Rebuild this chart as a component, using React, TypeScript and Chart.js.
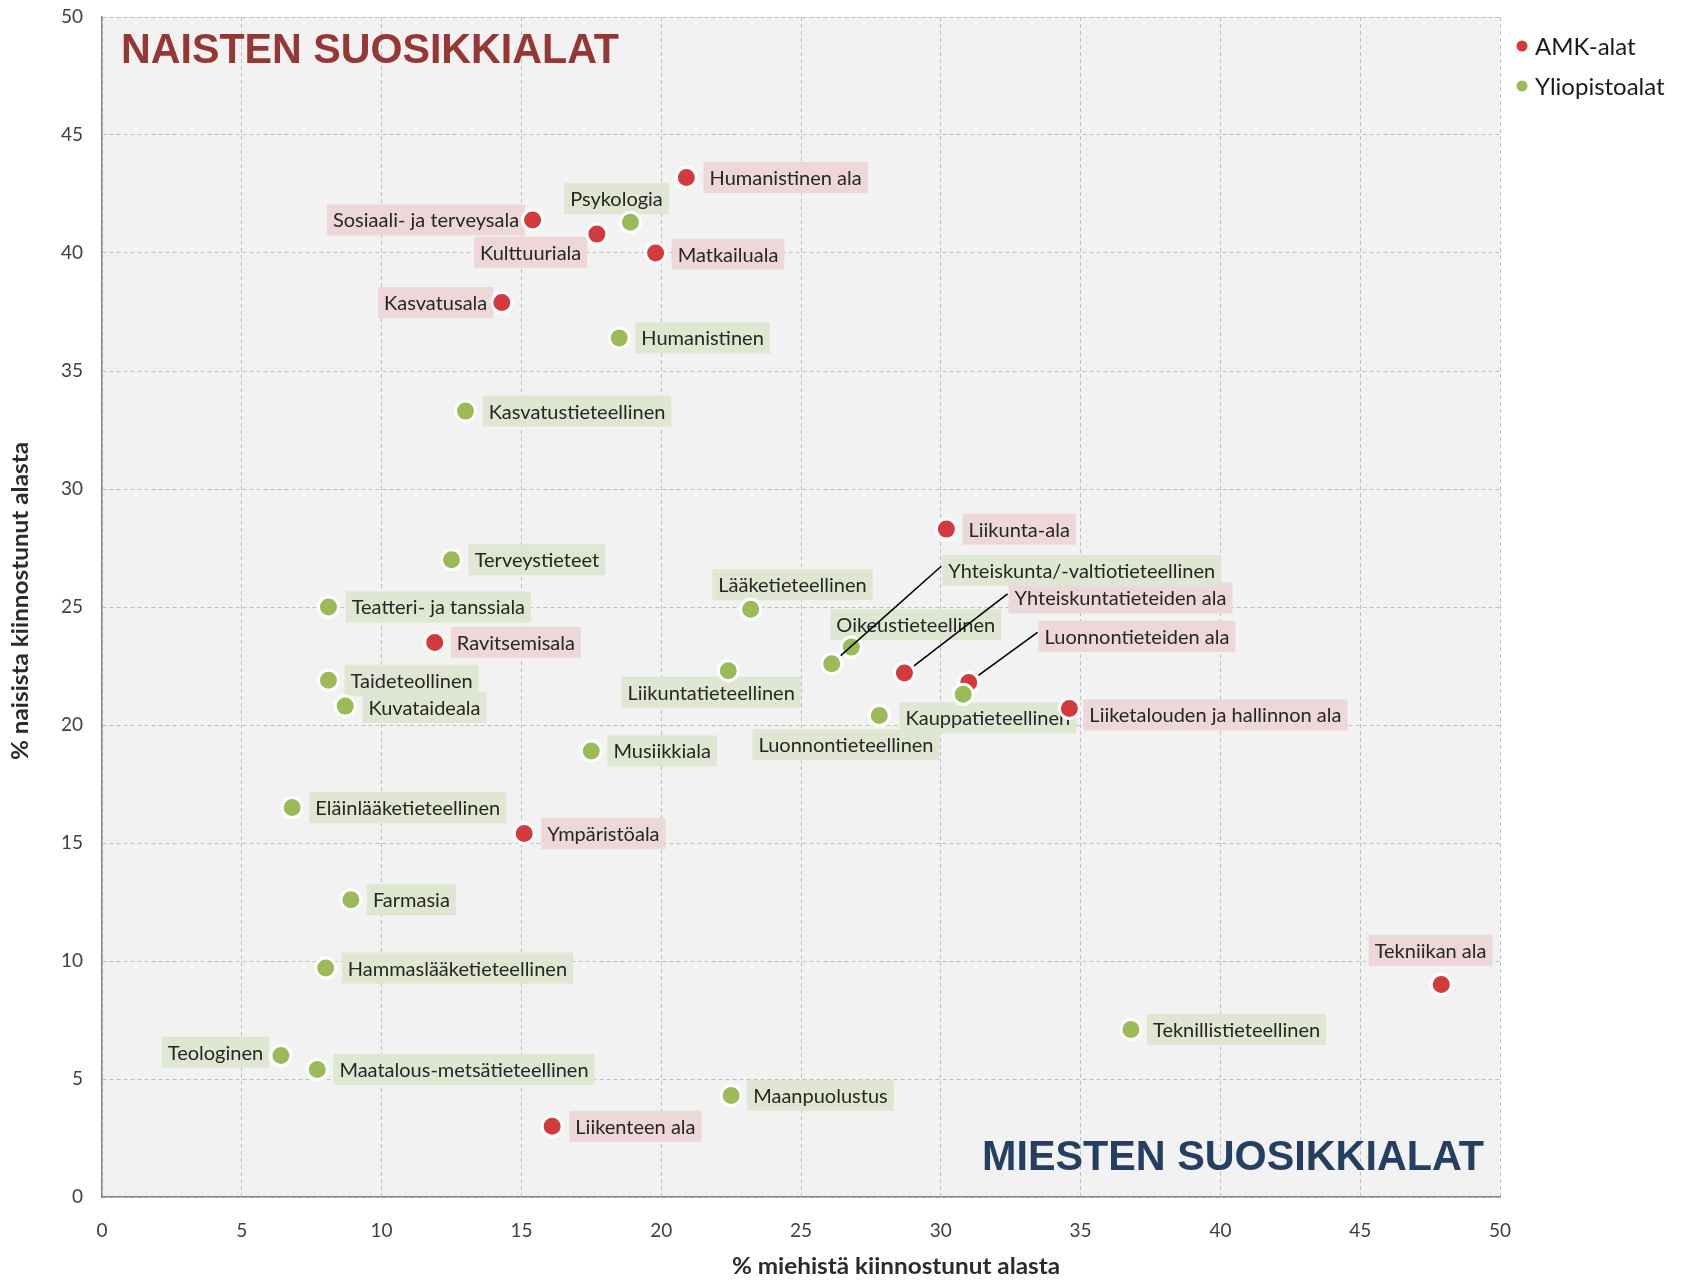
import React, { useEffect, useRef } from "react";
import { Chart, registerables } from "chart.js";
Chart.register(...registerables);

// ---------- DATA ----------
const SERIES_NAMES = ["AMK-alat", "Yliopistoalat"];

const AMK_NAMES = [
  "Humanistinen ala",
  "Sosiaali- ja terveysala",
  "Kulttuuriala",
  "Matkailuala",
  "Kasvatusala",
  "Liikunta-ala",
  "Yhteiskuntatieteiden ala",
  "Luonnontieteiden ala",
  "Liiketalouden ja hallinnon ala",
  "Ravitsemisala",
  "Ympäristöala",
  "Tekniikan ala",
  "Liikenteen ala",
];
const AMK_MEN = [20.9, 15.4, 17.7, 19.8, 14.3, 30.2, 28.7, 31.0, 34.6, 11.9, 15.1, 47.9, 16.1];
const AMK_WOMEN = [43.2, 41.4, 40.8, 40.0, 37.9, 28.3, 22.2, 21.8, 20.7, 23.5, 15.4, 9.0, 3.0];

const YO_NAMES = [
  "Psykologia",
  "Humanistinen",
  "Kasvatustieteellinen",
  "Terveystieteet",
  "Teatteri- ja tanssiala",
  "Lääketieteellinen",
  "Oikeustieteellinen",
  "Yhteiskunta/-valtiotieteellinen",
  "Liikuntatieteellinen",
  "Taideteollinen",
  "Kuvataideala",
  "Luonnontieteellinen",
  "Kauppatieteellinen",
  "Musiikkiala",
  "Eläinlääketieteellinen",
  "Farmasia",
  "Hammaslääketieteellinen",
  "Teologinen",
  "Maatalous-metsätieteellinen",
  "Maanpuolustus",
  "Teknillistieteellinen",
];
const YO_MEN = [18.9, 18.5, 13.0, 12.5, 8.1, 23.2, 26.8, 26.1, 22.4, 8.1, 8.7, 27.8, 30.8, 17.5, 6.8, 8.9, 8.0, 6.4, 7.7, 22.5, 36.8];
const YO_WOMEN = [41.3, 36.4, 33.3, 27.0, 25.0, 24.9, 23.3, 22.6, 22.3, 21.9, 20.8, 20.4, 21.3, 18.9, 16.5, 12.6, 9.7, 6.0, 5.4, 4.3, 7.1];

const X_TICKS = [0, 5, 10, 15, 20, 25, 30, 35, 40, 45, 50];
const Y_TICKS = [0, 5, 10, 15, 20, 25, 30, 35, 40, 45, 50];

const X_TITLE = "% miehistä kiinnostunut alasta";
const Y_TITLE = "% naisista kiinnostunut alasta";
const TOP_NOTE = "NAISTEN SUOSIKKIALAT";
const BOTTOM_NOTE = "MIESTEN SUOSIKKIALAT";

// ---------- STYLE / LAYOUT ----------
const S = 1683 / 1568;
const RED = "#D23A3D";
const GREEN = "#9BBB59";
const RED_BOX = "#EDD7D8";
const GREEN_BOX = "#DFE6D1";
const FONT = "Lato, 'Open Sans', sans-serif";
const LABEL_SIZE = 20;

// anchor: r = box left edge, l = box right edge, c = box center; dx/dy relative to point; leader line flag
const LABEL_LAYOUT: Record<string, [string, number, number, boolean?]> = {
  "Humanistinen ala": ["r", 16, 0],
  "Sosiaali- ja terveysala": ["l", -7, 0],
  "Kulttuuriala": ["l", -9, 17],
  "Matkailuala": ["r", 15, 1],
  "Kasvatusala": ["l", -8, 0],
  "Liikunta-ala": ["r", 15, 0],
  "Yhteiskuntatieteiden ala": ["r", 97, -70, true],
  "Luonnontieteiden ala": ["r", 65, -43, true],
  "Liiketalouden ja hallinnon ala": ["r", 13, 6],
  "Ravitsemisala": ["r", 15, 0],
  "Ympäristöala": ["r", 16, 0],
  "Tekniikan ala": ["c", -10, -32],
  "Liikenteen ala": ["r", 16, 0],
  "Psykologia": ["c", -13, -22],
  "Humanistinen": ["r", 15, 0],
  "Kasvatustieteellinen": ["r", 16, 0],
  "Terveystieteet": ["r", 16, 0],
  "Teatteri- ja tanssiala": ["r", 16, 0],
  "Lääketieteellinen": ["c", 39, -23],
  "Oikeustieteellinen": ["c", 60, -21],
  "Yhteiskunta/-valtiotieteellinen": ["r", 103, -87, true],
  "Liikuntatieteellinen": ["c", -16, 20],
  "Taideteollinen": ["r", 15, 0],
  "Kuvataideala": ["r", 16, 1],
  "Luonnontieteellinen": ["c", -31, 27],
  "Kauppatieteellinen": ["c", 23, 22],
  "Musiikkiala": ["r", 15, 0],
  "Eläinlääketieteellinen": ["r", 16, 0],
  "Farmasia": ["r", 15, 0],
  "Hammaslääketieteellinen": ["r", 15, 0],
  "Teologinen": ["l", -11, -3],
  "Maatalous-metsätieteellinen": ["r", 15, 0],
  "Maanpuolustus": ["r", 15, 0],
  "Teknillistieteellinen": ["r", 15, 0],
};

const bgPlugin = {
  id: "plotBg",
  beforeDraw(chart: any) {
    const { ctx, chartArea: a } = chart;
    ctx.save();
    ctx.fillStyle = "#F2F2F2";
    ctx.fillRect(a.left, a.top, a.right - a.left, a.bottom - a.top);
    ctx.restore();
  },
};

function labelBoxes(chart: any) {
  const ctx = chart.ctx;
  ctx.save();
  ctx.font = `${LABEL_SIZE}px ${FONT}`;
  const out: any[] = [];
  chart.data.datasets.forEach((ds: any, di: number) => {
    const meta = chart.getDatasetMeta(di);
    meta.data.forEach((el: any, i: number) => {
      const name = ds.data[i].name;
      const lay = LABEL_LAYOUT[name] || ["r", 15, 0];
      const w = ctx.measureText(name).width + 12;
      const h = 31;
      const cy = el.y + lay[2] * S;
      let left: number;
      if (lay[0] === "r") left = el.x + lay[1] * S;
      else if (lay[0] === "l") left = el.x + lay[1] * S - w;
      else left = el.x + lay[1] * S - w / 2;
      out.push({ name, left, cy, w, h, px: el.x, py: el.y, leader: !!lay[3], color: ds.boxColor });
    });
  });
  ctx.restore();
  return out;
}

const labelPlugin = {
  id: "pointLabels",
  beforeDatasetsDraw(chart: any) {
    const ctx = chart.ctx;
    const boxes = labelBoxes(chart);
    ctx.save();
    for (const b of boxes) {
      ctx.fillStyle = b.color;
      ctx.fillRect(b.left, b.cy - b.h / 2, b.w, b.h);
    }
    ctx.font = `${LABEL_SIZE}px ${FONT}`;
    ctx.fillStyle = "#262626";
    ctx.textBaseline = "middle";
    ctx.textAlign = "left";
    for (const b of boxes) {
      ctx.fillText(b.name, b.left + 6, b.cy + 1);
    }
    ctx.restore();
  },
  afterDatasetsDraw(chart: any) {
    const ctx = chart.ctx;
    const boxes = labelBoxes(chart);
    ctx.save();
    ctx.strokeStyle = "#000";
    ctx.lineWidth = 1.6;
    for (const b of boxes) {
      if (!b.leader) continue;
      const ex = b.left - 1;
      const ey = b.cy - 4;
      const dx = ex - b.px;
      const dy = ey - b.py;
      const len = Math.sqrt(dx * dx + dy * dy);
      const sx = b.px + (dx / len) * 12;
      const sy = b.py + (dy / len) * 12;
      ctx.beginPath();
      ctx.moveTo(sx, sy);
      ctx.lineTo(ex, ey);
      ctx.stroke();
    }
    ctx.restore();
  },
};

const notesPlugin = {
  id: "notes",
  afterDraw(chart: any) {
    const ctx = chart.ctx;
    ctx.save();
    const drawFit = (
      text: string,
      x: number,
      y: number,
      width: number,
      color: string,
      font: string,
      align: "left" | "center",
      rot = 0
    ) => {
      ctx.font = font;
      const m = ctx.measureText(text).width;
      ctx.save();
      ctx.translate(x, y);
      if (rot) ctx.rotate(rot);
      ctx.scale(width / m, 1);
      ctx.fillStyle = color;
      ctx.textBaseline = "middle";
      ctx.textAlign = align;
      ctx.fillText(text, 0, 0);
      ctx.restore();
    };
    const big = `bold 43px 'Liberation Sans', Arial, sans-serif`;
    drawFit(TOP_NOTE, 121, 51, 498, "#953735", big, "left");
    drawFit(BOTTOM_NOTE, 982, 1158, 502, "#243F60", big, "left");

    const axisFont = `bold 23px ${FONT}`;
    drawFit(X_TITLE, 896, 1267, 328, "#2b2b2b", axisFont, "center");
    drawFit(Y_TITLE, 21, 601, 318, "#2b2b2b", axisFont, "center", -Math.PI / 2);

    // legend
    const colors = [RED, GREEN];
    ctx.font = `24px ${FONT}`;
    ctx.textBaseline = "middle";
    ctx.textAlign = "left";
    SERIES_NAMES.forEach((n, i) => {
      const y = 46 + i * 40;
      ctx.fillStyle = colors[i];
      ctx.beginPath();
      ctx.arc(1522, y, 5.5, 0, Math.PI * 2);
      ctx.fill();
      ctx.fillStyle = "#1a1a1a";
      ctx.fillText(n, 1535, y + 1);
    });
    ctx.restore();
  },
};

export default function App() {
  const ref = useRef<HTMLCanvasElement | null>(null);
  useEffect(() => {
    if (!ref.current) return;
    const amk = AMK_MEN.map((x, i) => ({ x, y: AMK_WOMEN[i], name: AMK_NAMES[i] }));
    const yo = YO_MEN.map((x, i) => ({ x, y: YO_WOMEN[i], name: YO_NAMES[i] }));
    const tickFont = { family: FONT, size: 19 };
    const chart = new Chart(ref.current, {
      type: "scatter",
      data: {
        datasets: [
          {
            label: SERIES_NAMES[0],
            data: amk,
            backgroundColor: RED,
            borderColor: "#FFFFFF",
            borderWidth: 3,
            pointRadius: 10,
            order: 2,
            boxColor: RED_BOX,
          } as any,
          {
            label: SERIES_NAMES[1],
            data: yo,
            backgroundColor: GREEN,
            borderColor: "#FFFFFF",
            borderWidth: 3,
            pointRadius: 10,
            order: 1,
            boxColor: GREEN_BOX,
          } as any,
        ],
      },
      options: {
        animation: false,
        responsive: false,
        devicePixelRatio: 1,
        layout: { padding: { left: 0, right: 183, top: 17, bottom: 0 } },
        plugins: { legend: { display: false }, tooltip: { enabled: false } },
        scales: {
          x: {
            type: "linear",
            min: 0,
            max: 50,
            afterBuildTicks: (s: any) => {
              s.ticks = X_TICKS.map((v) => ({ value: v }));
            },
            afterFit: (s: any) => {
              s.height = 83;
              s.paddingLeft = 0;
              s.paddingRight = 0;
            },
            ticks: { font: tickFont, color: "#404040", padding: 22, maxRotation: 0 },
            grid: { color: "#BFBFBF", lineWidth: 1, drawTicks: false },
            border: { display: true, color: "#868686", width: 1.5, dash: [4, 3] },
            title: { display: false },
          },
          y: {
            type: "linear",
            min: 0,
            max: 50,
            afterBuildTicks: (s: any) => {
              s.ticks = Y_TICKS.map((v) => ({ value: v }));
            },
            afterFit: (s: any) => {
              s.width = 102;
              s.paddingTop = 0;
              s.paddingBottom = 0;
            },
            ticks: { font: tickFont, color: "#404040", padding: 19 },
            grid: { color: "#BFBFBF", lineWidth: 1, drawTicks: false },
            border: { display: true, color: "#868686", width: 1.5, dash: [4, 3] },
            title: { display: false },
          },
        },
      } as any,
      plugins: [bgPlugin, labelPlugin, notesPlugin],
    });
    return () => chart.destroy();
  }, []);
  return (
    <div style={{ position: "fixed", left: 0, top: 0, width: 1683, height: 1280, background: "#fff" }}>
      <canvas ref={ref} width={1683} height={1280} style={{ display: "block", width: 1683, height: 1280 }} />
    </div>
  );
}
